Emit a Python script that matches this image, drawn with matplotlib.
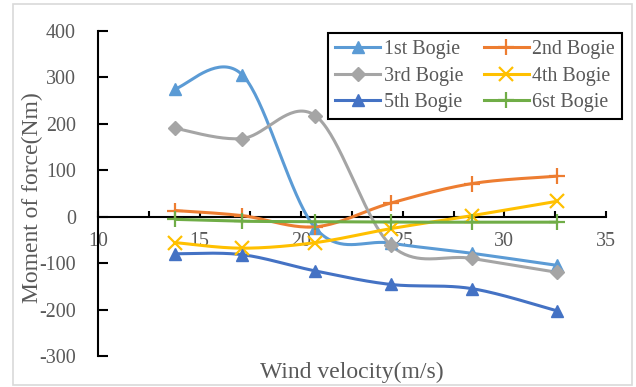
import numpy as np
import matplotlib
matplotlib.use("Agg")
import matplotlib.pyplot as plt
from matplotlib.lines import Line2D
from matplotlib.patches import Rectangle

plt.rcParams["axes.unicode_minus"] = False

# Wind velocities (m/s) and bogie moments of force (Nm)
wind_velocity = [13.8, 17.1, 20.7, 24.4, 28.4, 32.6]
bogie_1 = [275, 305, -25, -57, -79, -105]
bogie_2 = [13, 2, -22, 29, 71, 87]
bogie_3 = [190, 168, 217, -61, -90, -120]
bogie_4 = [-56, -68, -56, -26, 2, 33]
bogie_5 = [-80, -82, -117, -146, -155, -203]
bogie_6 = [-6, -10, -11, -12, -12, -12]

series_names = ["1st Bogie", "2nd Bogie", "3rd Bogie", "4th Bogie", "5th Bogie", "6st Bogie"]
series_values = [bogie_1, bogie_2, bogie_3, bogie_4, bogie_5, bogie_6]
colors = ["#5B9BD5", "#ED7D31", "#A5A5A5", "#FFC000", "#4472C4", "#70AD47"]
markers = ["^", "+", "D", "x", "^", "+"]
marker_sizes = [9, 11, 7, 10, 9, 11]

x_ticks = [10, 15, 20, 25, 30, 35]
y_ticks = [-300, -200, -100, 0, 100, 200, 300, 400]

TEXT = "#595959"
SERIF = "Liberation Serif"


def smooth(xs, ys, n=40):
    """Catmull-Rom style Bezier smoothing through the given points."""
    p = np.column_stack([xs, ys]).astype(float)
    pts = np.vstack([p[0], p, p[-1]])
    out = []
    t = np.linspace(0, 1, n)[:, None]
    for i in range(1, len(pts) - 2):
        p0, p1, p2, p3 = pts[i - 1], pts[i], pts[i + 1], pts[i + 2]
        c1 = p1 + (p2 - p0) / 6.0
        c2 = p2 - (p3 - p1) / 6.0
        seg = ((1 - t) ** 3) * p1 + 3 * ((1 - t) ** 2) * t * c1 \
            + 3 * (1 - t) * t ** 2 * c2 + t ** 3 * p2
        out.append(seg if i == 1 else seg[1:])
    s = np.vstack(out)
    return s[:, 0], s[:, 1]


fig = plt.figure(figsize=(6.36, 3.87), dpi=100)
fig.patch.set_facecolor("white")

# light chart border
fig.patches.append(Rectangle((13 / 636, 1 - 385 / 387), 619 / 636, 381 / 387,
                             transform=fig.transFigure, fill=False,
                             edgecolor="#D9D9D9", linewidth=1.2, zorder=0))

ax = fig.add_axes([98 / 636, 1 - 356 / 387, 508 / 636, 325.3 / 387])
ax.set_facecolor("none")

handles = []
for name, vals, col, mk, ms in zip(series_names, series_values, colors, markers, marker_sizes):
    sx, sy = smooth(wind_velocity, vals)
    ax.plot(sx, sy, color=col, lw=2.2, solid_capstyle="round", zorder=3)
    mew = 1.6 if mk in ("+", "x") else 1.0
    ax.plot(wind_velocity, vals, linestyle="none", marker=mk, ms=ms,
            color=col, mec=col, mew=mew, zorder=4)
    handles.append(Line2D([], [], color=col, lw=2.2, marker=mk, ms=ms, mec=col, mew=mew))

ax.set_xlim(10, 35)
ax.set_ylim(-300, 400)

for side in ("top", "right"):
    ax.spines[side].set_visible(False)
ax.spines["bottom"].set_position(("data", 0))
ax.spines["bottom"].set_linewidth(1.5)
ax.spines["left"].set_linewidth(1.5)
ax.spines["bottom"].set_zorder(2)

ax.set_xticks(x_ticks)
ax.set_xticks([12.5, 17.5, 22.5, 27.5, 32.5], minor=True)
ax.set_yticks(y_ticks)
ax.tick_params(axis="x", which="both", direction="in", length=4, width=1.5,
               pad=11, labelsize=14.4, labelcolor=TEXT)
ax.tick_params(axis="y", direction="in", length=7, width=1.5,
               pad=16, labelsize=14.4, labelcolor=TEXT)
for lab in ax.get_xticklabels() + ax.get_yticklabels():
    lab.set_fontfamily(SERIF)

fig.text(352 / 636, 1 - 372 / 387, "Wind velocity(m/s)", ha="center", va="center",
         fontsize=17, color=TEXT, family=SERIF)
fig.text(32 / 636, 1 - 198 / 387, "Moment of force(Nm)", ha="center", va="center",
         rotation=90, fontsize=17, color=TEXT, family=SERIF)

# two columns filled row by row: 1st/2nd, 3rd/4th, 5th/6st
order = [0, 2, 4, 1, 3, 5]
leg = ax.legend([handles[i] for i in order], [series_names[i] for i in order],
                ncol=2, loc="upper left",
                bbox_to_anchor=(328 / 636, 1 - 33 / 387), bbox_transform=fig.transFigure,
                prop={"family": SERIF, "size": 14.4}, labelcolor=TEXT,
                frameon=True, fancybox=False, framealpha=1, edgecolor="black",
                handlelength=2.25, handletextpad=0.2, columnspacing=1.0,
                labelspacing=0.38, borderpad=0.35, borderaxespad=0)
leg.get_frame().set_linewidth(1.5)

fig.savefig("out.png", dpi=100)
